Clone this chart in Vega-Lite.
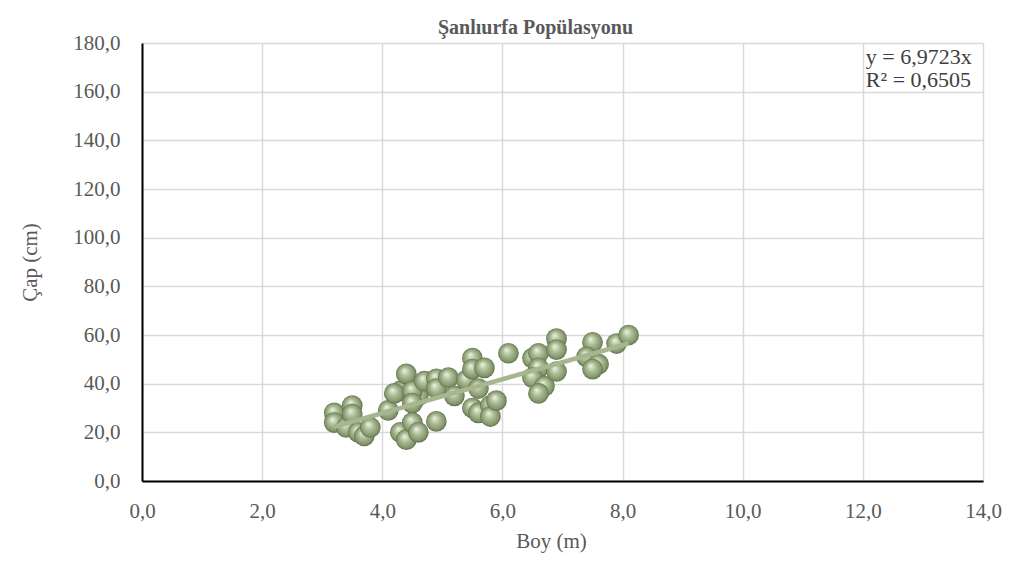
{
  "$schema": "https://vega.github.io/schema/vega-lite/v6.json",
  "autosize": "none",
  "width": 841,
  "height": 438,
  "padding": {"left": 142, "top": 43, "right": 36, "bottom": 81},
  "background": "white",
  "title": {
    "text": "Şanlıurfa Popülasyonu",
    "font": "Liberation Serif",
    "fontSize": 20,
    "fontWeight": "bold",
    "color": "#595959",
    "anchor": "middle",
    "dx": -27,
    "offset": -6
  },
  "config": {
    "view": {"stroke": null},
    "axis": {
      "labelFont": "Liberation Serif",
      "labelFontSize": 21,
      "labelColor": "#595959",
      "titleFont": "Liberation Serif",
      "titleFontSize": 21,
      "titleFontWeight": "normal",
      "titleColor": "#595959",
      "gridColor": "#d9d9d9",
      "gridWidth": 1.5,
      "domainColor": "#000000",
      "domainWidth": 2,
      "ticks": false,
      "labelFlush": false
    }
  },
  "datasets": {
    "points": [
      {"boy": 3.2, "cap": 28}, {"boy": 3.2, "cap": 24}, {"boy": 3.4, "cap": 22}, {"boy": 3.5, "cap": 31},
      {"boy": 3.5, "cap": 27.5}, {"boy": 3.6, "cap": 20}, {"boy": 3.7, "cap": 18.5}, {"boy": 3.8, "cap": 22},
      {"boy": 4.1, "cap": 29}, {"boy": 4.3, "cap": 37}, {"boy": 4.2, "cap": 36}, {"boy": 4.6, "cap": 35},
      {"boy": 4.4, "cap": 44}, {"boy": 4.5, "cap": 37}, {"boy": 4.5, "cap": 32}, {"boy": 4.3, "cap": 20},
      {"boy": 4.4, "cap": 17}, {"boy": 4.5, "cap": 24}, {"boy": 4.6, "cap": 20}, {"boy": 4.7, "cap": 41},
      {"boy": 4.9, "cap": 42}, {"boy": 4.9, "cap": 38}, {"boy": 4.9, "cap": 24.5}, {"boy": 5.1, "cap": 42.5},
      {"boy": 5.2, "cap": 35}, {"boy": 5.4, "cap": 41.5}, {"boy": 5.5, "cap": 50.5}, {"boy": 5.5, "cap": 46},
      {"boy": 5.7, "cap": 46.5}, {"boy": 5.6, "cap": 38}, {"boy": 5.5, "cap": 30}, {"boy": 5.6, "cap": 28},
      {"boy": 5.8, "cap": 31}, {"boy": 5.8, "cap": 26.5}, {"boy": 5.9, "cap": 33}, {"boy": 6.1, "cap": 52.5},
      {"boy": 6.5, "cap": 50.5}, {"boy": 6.6, "cap": 52.5}, {"boy": 6.6, "cap": 46.5}, {"boy": 6.5, "cap": 42.5},
      {"boy": 6.7, "cap": 39}, {"boy": 6.6, "cap": 36}, {"boy": 6.9, "cap": 58.5}, {"boy": 6.9, "cap": 54},
      {"boy": 6.9, "cap": 45}, {"boy": 7.5, "cap": 57}, {"boy": 7.4, "cap": 51}, {"boy": 7.6, "cap": 48},
      {"boy": 7.5, "cap": 46}, {"boy": 7.9, "cap": 56.5}, {"boy": 8.1, "cap": 60}
    ],
    "trend": [
      {"boy": 3.2, "cap": 22.3}, {"boy": 8.1, "cap": 56.5}
    ]
  },
  "layer": [
    {
      "data": {"name": "points"},
      "mark": {
        "type": "circle",
        "size": 430,
        "opacity": 1,
        "fill": {
          "gradient": "radial",
          "x1": 0.4, "y1": 0.33, "r1": 0,
          "x2": 0.5, "y2": 0.5, "r2": 0.5,
          "stops": [
            {"offset": 0, "color": "#edf3e3"},
            {"offset": 0.45, "color": "#abbd95"},
            {"offset": 0.85, "color": "#83956b"},
            {"offset": 1, "color": "#5f6e4c"}
          ]
        },
        "stroke": null
      },
      "encoding": {
        "x": {
          "field": "boy", "type": "quantitative",
          "scale": {"domain": [0, 14], "nice": false, "zero": true},
          "axis": {
            "title": "Boy (m)",
            "values": [0, 2, 4, 6, 8, 10, 12, 14],
            "labelExpr": "replace(format(datum.value, '.1f'), '.', ',')",
            "labelPadding": 19,
            "titlePadding": 9,
            "titleX": 409
          }
        },
        "y": {
          "field": "cap", "type": "quantitative",
          "scale": {"domain": [0, 180], "nice": false},
          "axis": {
            "title": "Çap (cm)",
            "values": [0, 20, 40, 60, 80, 100, 120, 140, 160, 180],
            "labelExpr": "replace(format(datum.value, '.1f'), '.', ',')",
            "labelPadding": 22,
            "titleX": -112,
            "titleY": 219,
            "titleBaseline": "middle",
            "titleAlign": "center",
            "titleAngle": -90
          }
        }
      }
    },
    {
      "data": {"name": "trend"},
      "mark": {"type": "line", "color": "#a5b690", "strokeWidth": 4.5},
      "encoding": {
        "x": {"field": "boy", "type": "quantitative"},
        "y": {"field": "cap", "type": "quantitative"}
      }
    },
    {
      "data": {"values": [{"t": "y = 6,9723x"}]},
      "mark": {"type": "text", "font": "Liberation Serif", "fontSize": 22, "color": "#404040", "align": "left", "baseline": "alphabetic"},
      "encoding": {
        "x": {"datum": 12.05, "type": "quantitative"},
        "y": {"datum": 171.5, "type": "quantitative"},
        "text": {"field": "t"}
      }
    },
    {
      "data": {"values": [{"t": "R² = 0,6505"}]},
      "mark": {"type": "text", "font": "Liberation Serif", "fontSize": 22, "color": "#404040", "align": "left", "baseline": "alphabetic"},
      "encoding": {
        "x": {"datum": 12.05, "type": "quantitative"},
        "y": {"datum": 162, "type": "quantitative"},
        "text": {"field": "t"}
      }
    }
  ]
}
